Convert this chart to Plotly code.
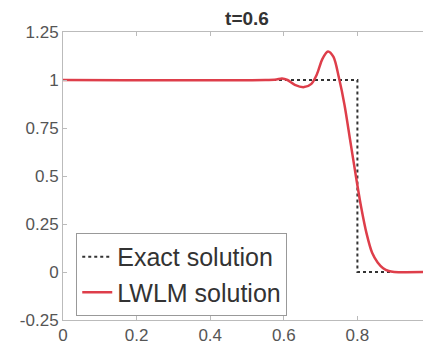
import plotly.graph_objects as go

# Data
exact_x = [0, 0.8, 0.8, 1.0]
exact_y = [1, 1, 0, 0]

lwlm_x = [0, 0.55, 0.58, 0.595, 0.61, 0.63, 0.655, 0.675, 0.69, 0.705, 0.72, 0.735,
          0.75, 0.765, 0.78, 0.795, 0.81, 0.825, 0.84, 0.855, 0.87, 0.885, 0.9, 1.0]
lwlm_y = [1, 1, 1.003, 1.008, 1.0, 0.975, 0.963, 0.98, 1.03, 1.11, 1.148, 1.12,
          1.01, 0.87, 0.69, 0.51, 0.34, 0.2, 0.1, 0.05, 0.02, 0.005, 0, 0]

x_ticks = [0, 0.2, 0.4, 0.6, 0.8, 1]
x_labels = ["0", "0.2", "0.4", "0.6", "0.8", "1"]
y_ticks = [-0.25, 0, 0.25, 0.5, 0.75, 1, 1.25]
y_labels = ["-0.25", "0", "0.25", "0.5", "0.75", "1", "1.25"]

fig = go.Figure()
fig.add_trace(go.Scatter(x=exact_x, y=exact_y, mode="lines", name="Exact solution",
                         line=dict(color="#333333", width=2, dash="dot")))
fig.add_trace(go.Scatter(x=lwlm_x, y=lwlm_y, mode="lines", name="LWLM solution",
                         line=dict(color="rgb(222,62,74)", width=2.5, shape="spline", smoothing=0.8)))

axis_common = dict(showgrid=False, zeroline=False, showline=True, linecolor="#bbbbbb",
                   linewidth=1, mirror="ticks", ticks="inside", ticklen=4,
                   tickcolor="#bbbbbb", automargin=False,
                   tickfont=dict(family="Liberation Sans, Arial", size=17, color="#555555"))

# The page body has an 8px default margin, so the figure is drawn 8px smaller.
W, H = 423, 344
fig.update_layout(
    width=W, height=H,
    margin=dict(l=55, r=0, t=24, b=32),
    paper_bgcolor="white", plot_bgcolor="white",
    title=dict(text="<b>t=0.6</b>", x=(55 + W) / 2 / W, xanchor="center",
               y=1 - 10 / H, yanchor="middle",
               font=dict(family="Liberation Sans, Arial", size=19, color="#333333")),
    xaxis=dict(range=[0, 1.0], tickvals=x_ticks, ticktext=x_labels, **axis_common),
    yaxis=dict(range=[-0.25, 1.25], tickvals=y_ticks, ticktext=y_labels, **axis_common),
    legend=dict(x=0.036, y=0.014, xanchor="left", yanchor="bottom",
                bgcolor="white", bordercolor="#999999", borderwidth=1,
                font=dict(family="Liberation Sans, Arial", size=25, color="#333333"),
                tracegroupgap=0, itemwidth=30),
    showlegend=True,
)

fig.write_html("out.html")
